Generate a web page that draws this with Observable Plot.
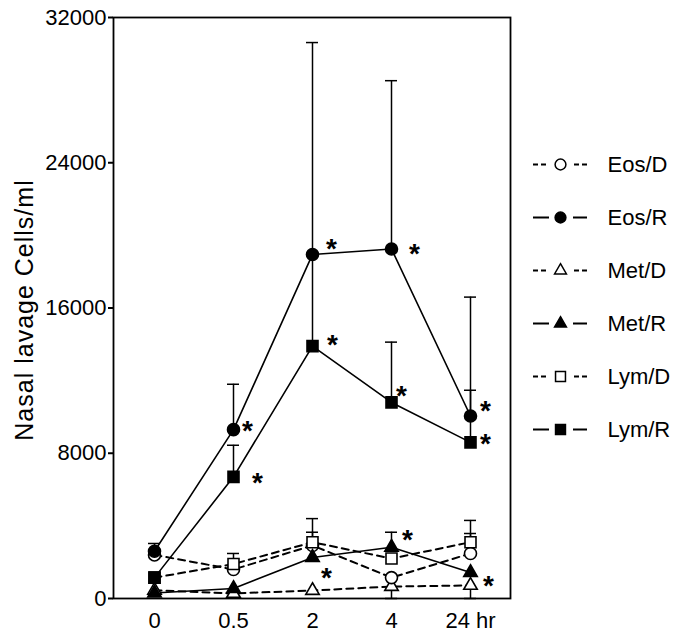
<!DOCTYPE html>
<html><head><meta charset="utf-8">
<script src="https://cdn.jsdelivr.net/npm/d3@7"></script>
<script src="https://cdn.jsdelivr.net/npm/@observablehq/plot@0.6"></script>
<style>
body{margin:0;background:#fff;}
#wrap{display:flex;width:691px;height:644px;}
svg{overflow:visible;}
</style>
</head><body><div id="wrap"></div>
<script>
// ---- data ----
const times = ["0", "0.5", "2", "4", "24"];
const timeLabels = ["0", "0.5", "2", "4", "24 hr"];
const seriesNames = ["Eos/D", "Eos/R", "Met/D", "Met/R", "Lym/D", "Lym/R"];
const yTicks = [0, 8000, 16000, 24000, 32000];

const eosD = [2400, 1600, 2920, 1150, 2480];
const eosR = [2600, 9300, 18950, 19250, 10050];
const metD = [450, 280, 440, 660, 720];
const metR = [300, 550, 2260, 2820, 1430];
const lymD = [1150, 1900, 3100, 2200, 3100];
const lymR = [1150, 6700, 13900, 10800, 8600];

// SEM (upper bars; Met/D bars drawn downward)
const eosDErr = [0, 0, 730, 0, 1100];
const eosRErr = [430, 2500, 11670, 9270, 6550];
const metDErr = [0, 0, 0, 660, 720];
const metRErr = [0, 0, 0, 830, 0];
const lymDErr = [0, 580, 1300, 0, 1200];
const lymRErr = [0, 1740, 5000, 3320, 2870];

// significance flags (*)
const eosRSig = [0, 1, 1, 1, 1];
const metRSig = [0, 0, 1, 1, 1];
const lymRSig = [0, 1, 1, 1, 1];

// ---- build tables ----
const spec = [
  {name: "Eos/D", vals: eosD, err: eosDErr, dir: 1, symbol: "circle", filled: false, dashed: true},
  {name: "Eos/R", vals: eosR, err: eosRErr, dir: 1, symbol: "circle", filled: true, dashed: false, sig: eosRSig},
  {name: "Met/D", vals: metD, err: metDErr, dir: -1, symbol: "triangle", filled: false, dashed: true},
  {name: "Met/R", vals: metR, err: metRErr, dir: 1, symbol: "triangle", filled: true, dashed: false, sig: metRSig},
  {name: "Lym/D", vals: lymD, err: lymDErr, dir: 1, symbol: "square", filled: false, dashed: true},
  {name: "Lym/R", vals: lymR, err: lymRErr, dir: 1, symbol: "square", filled: true, dashed: false, sig: lymRSig}
];
const rows = [], errRows = [], starRows = [];
for (const s of spec) {
  times.forEach((t, i) => {
    rows.push({series: s.name, t, v: s.vals[i], symbol: s.symbol, filled: s.filled, dashed: s.dashed});
    if (s.err[i] > 0) errRows.push({series: s.name, t, y1: s.vals[i], y2: s.vals[i] + s.dir * s.err[i]});
    if (s.sig && s.sig[i]) starRows.push({series: s.name, t, v: s.vals[i]});
  });
}
// asterisk placement offsets (layout only)
const starOffset = {
  "Eos/R|0.5": [14, -7], "Lym/R|0.5": [24, -2],
  "Eos/R|2": [19, -13], "Lym/R|2": [20, -9], "Met/R|2": [14, 13],
  "Eos/R|4": [23, -3], "Lym/R|4": [10, -14], "Met/R|4": [16, -15],
  "Eos/R|24": [15, -13], "Lym/R|24": [15, -6], "Met/R|24": [18, 5]
};
const symR = {circle: 6, square: 6.2, triangle: 5};
const font = "'Liberation Sans', Arial, Helvetica, sans-serif";

const dotOrder = [["triangle", false], ["circle", false], ["square", false], ["triangle", true], ["circle", true], ["square", true]];

const chart = Plot.plot({
  width: 520, height: 644,
  marginLeft: 113, marginRight: 10, marginTop: 17, marginBottom: 46,
  style: {fontSize: "22px", fontFamily: font, color: "#000", background: "#fff"},
  x: {type: "point", domain: times, padding: 0.49},
  y: {domain: [0, 32000]},
  marks: [
    Plot.frame({stroke: "#000", strokeWidth: 1.8}),
    Plot.axisY({ticks: yTicks, tickSize: 5, tickPadding: 2, tickFormat: d => String(d), label: null, strokeWidth: 2}),
    Plot.axisX({tickSize: 0, tickPadding: 14, tickFormat: d => timeLabels[times.indexOf(d)], label: null}),
    Plot.text(["Nasal lavage Cells/ml"], {frameAnchor: "left", dx: -89, dy: 2, rotate: -90, fontSize: 25, textAnchor: "middle", lineAnchor: "middle", text: d => d}),
    Plot.line(rows.filter(d => d.dashed), {x: "t", y: "v", z: "series", stroke: "#000", strokeWidth: 2, strokeDasharray: "7,5"}),
    Plot.line(rows.filter(d => !d.dashed), {x: "t", y: "v", z: "series", stroke: "#000", strokeWidth: 1.6}),
    Plot.ruleX(errRows, {x: "t", y1: "y1", y2: "y2", stroke: "#000", strokeWidth: 1.5}),
    Plot.ruleY(errRows, {x1: "t", x2: "t", y: "y2", insetLeft: -6, insetRight: -6, stroke: "#000", strokeWidth: 1.5}),
    ...dotOrder.map(([sym, filled]) =>
      Plot.dot(rows.filter(d => d.symbol === sym && d.filled === filled), {
        x: "t", y: "v", symbol: sym, r: symR[sym],
        fill: filled ? "#000" : "#fff", stroke: "#000", strokeWidth: 1.6
      })),
    ...starRows.map(s => {
      const o = starOffset[s.series + "|" + s.t] || [15, -6];
      return Plot.text([s], {x: "t", y: "v", text: () => "*", dx: o[0], dy: o[1] + 8, fontSize: 28, fontWeight: "bold", lineAnchor: "middle"});
    })
  ]
});
d3.select(chart).selectAll("text")
  .filter(function() { return this.textContent.startsWith("Nasal"); })
  .style("letter-spacing", "1px");

const legendRows = spec.map(s => ({name: s.name, symbol: s.symbol, filled: s.filled, dashed: s.dashed}));
const legend = Plot.plot({
  width: 171, height: 644,
  marginLeft: 0, marginRight: 0, marginTop: 0, marginBottom: 0,
  style: {fontSize: "22px", fontFamily: font, color: "#000", background: "#fff"},
  y: {type: "point", domain: seriesNames, range: [135, 457], axis: null},
  marks: [
    Plot.ruleY(legendRows.filter(d => d.dashed), {y: "name", insetLeft: 13, insetRight: 104, stroke: "#000", strokeWidth: 1.8, strokeDasharray: "5,3,5,28,5,3,5,200"}),
    Plot.ruleY(legendRows.filter(d => !d.dashed), {y: "name", insetLeft: 13, insetRight: 104, stroke: "#000", strokeWidth: 1.8, strokeDasharray: "16,24,16,200"}),
    ...dotOrder.map(([sym, filled]) =>
      Plot.dot(legendRows.filter(d => d.symbol === sym && d.filled === filled), {
        y: "name", frameAnchor: "left", dx: 40, symbol: sym, r: symR[sym] - 0.6,
        fill: filled ? "#000" : "#fff", stroke: "#000", strokeWidth: 1.5
      })),
    Plot.text(legendRows, {y: "name", text: "name", frameAnchor: "left", dx: 87, textAnchor: "start", lineAnchor: "middle"})
  ]
});

const wrap = document.getElementById("wrap");
wrap.appendChild(chart);
wrap.appendChild(legend);
</script>
</body></html>
